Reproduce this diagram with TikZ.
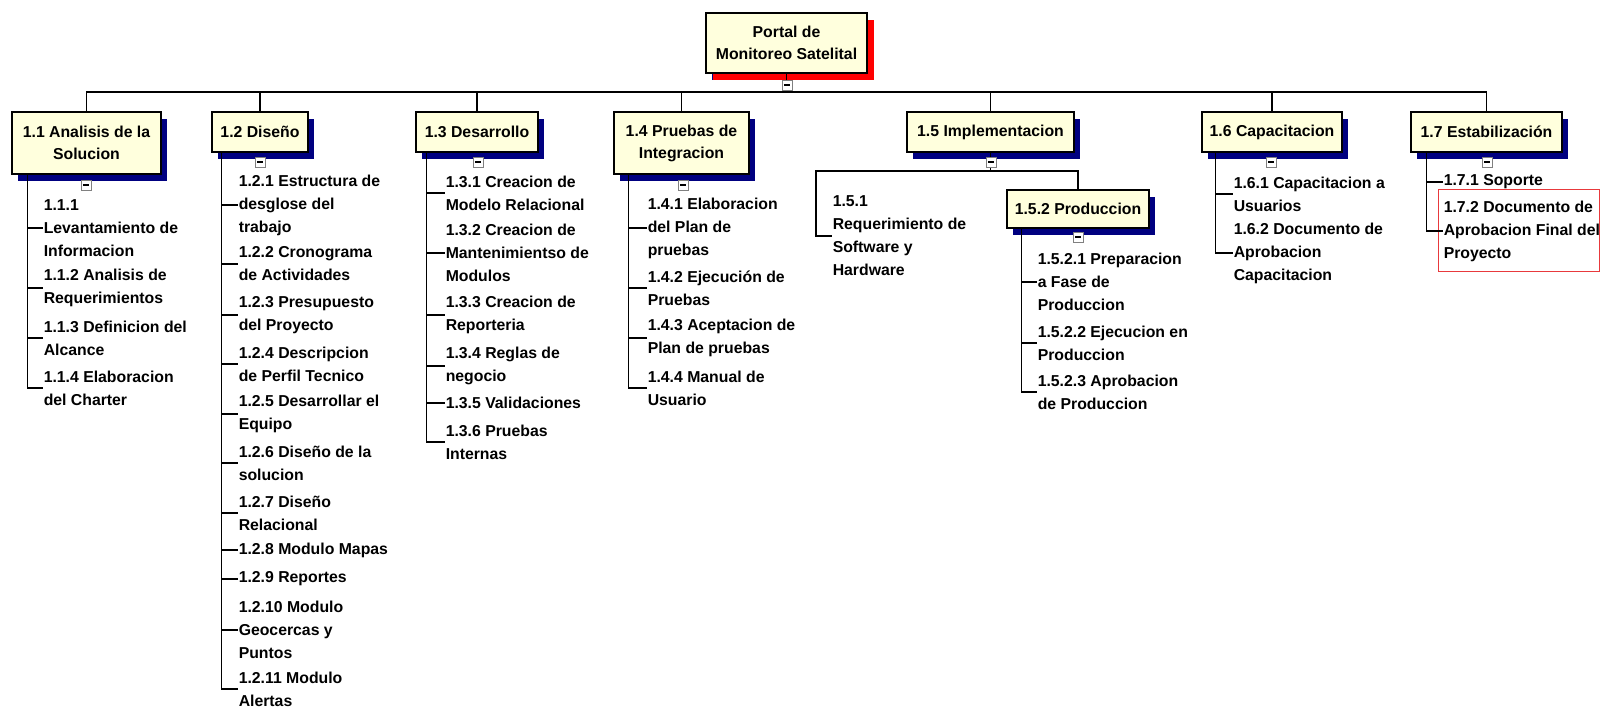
\documentclass[tikz,border=0pt]{standalone}
\usepackage{fontspec}
\setmainfont{Liberation Sans}
\usetikzlibrary{shadows}
\definecolor{boxfill}{HTML}{FFFFDD}
\definecolor{navyshadow}{HTML}{000080}
\definecolor{rootshadow}{HTML}{FF0000}
\definecolor{markgray}{HTML}{808080}
\definecolor{framered}{HTML}{E8393C}
\begin{document}
\begin{tikzpicture}[x=1pt,y=-1pt,line width=1.5pt,
  wbs/.style={draw=black, line width=1.4pt, fill=boxfill, align=center, inner sep=0pt,
    font=\fontsize{15.8}{22}\selectfont\bfseries,
    drop shadow={shadow xshift=6pt, shadow yshift=-7pt, fill=navyshadow, opacity=1, draw=none}},
  rootbox/.style={wbs, drop shadow={shadow xshift=7pt, shadow yshift=-7pt, fill=rootshadow, opacity=1, draw=none}},
  child/.style={anchor=west, inner sep=0pt, align=left, font=\fontsize{15.8}{23}\selectfont\bfseries},
  collapse/.style={draw=markgray, fill=white, line width=0.8pt, minimum size=10pt, inner sep=0pt,
    path picture={\draw[black, line width=1.2pt] ([xshift=-3pt]path picture bounding box.center) -- ([xshift=3pt]path picture bounding box.center);}}
]
\useasboundingbox (0,0) rectangle (1600,708);

% boxes
\node[rootbox, minimum width=161pt, minimum height=60pt] (root) at (786.5,43) {Portal de\\Monitoreo Satelital};
\node[wbs, minimum width=149pt, minimum height=62pt] (b11) at (86.5,143) {1.1 Analisis de la\\Solucion};
\node[wbs, minimum width=96pt, minimum height=40pt] (b12) at (260,132) {1.2 Diseño};
\node[wbs, minimum width=122pt, minimum height=40pt] (b13) at (477,132) {1.3 Desarrollo};
\node[wbs, minimum width=135pt, minimum height=62pt] (b14) at (681.5,143) {1.4 Pruebas de\\Integracion};
\node[wbs, minimum width=167pt, minimum height=40pt] (b15) at (990.5,132) {1.5 Implementacion};
\node[wbs, minimum width=142pt, minimum height=38pt] (b152) at (1078,209) {1.5.2 Produccion};
\node[wbs, minimum width=140pt, minimum height=40pt] (b16) at (1272,132) {1.6 Capacitacion};
\node[wbs, minimum width=151pt, minimum height=40pt] (b17) at (1486.5,132) {1.7 Estabilización};

% children 1.1
\node[child] (c111) at (43,228) {1.1.1\\Levantamiento de\\Informacion};
\node[child] (c112) at (43,288) {1.1.2 Analisis de\\Requerimientos};
\node[child] (c113) at (43,338) {1.1.3 Definicion del\\Alcance};
\node[child] (c114) at (43,388) {1.1.4 Elaboracion\\del Charter};
% children 1.2
\node[child] (c121) at (238,205) {1.2.1 Estructura de\\desglose del\\trabajo};
\node[child] (c122) at (238,264) {1.2.2 Cronograma\\de Actividades};
\node[child] (c123) at (238,315) {1.2.3 Presupuesto\\del Proyecto};
\node[child] (c124) at (238,364) {1.2.4 Descripcion\\de Perfil Tecnico};
\node[child] (c125) at (238,414) {1.2.5 Desarrollar el\\Equipo};
\node[child] (c126) at (238,463) {1.2.6 Diseño de la\\solucion};
\node[child] (c127) at (238,513) {1.2.7 Diseño\\Relacional};
\node[child] (c128) at (238,550) {1.2.8 Modulo Mapas};
\node[child] (c129) at (238,579) {1.2.9 Reportes};
\node[child] (c1210) at (238,630) {1.2.10 Modulo\\Geocercas y\\Puntos};
\node[child] (c1211) at (238,689) {1.2.11 Modulo\\Alertas};
% children 1.3
\node[child] (c131) at (445,193) {1.3.1 Creacion de\\Modelo Relacional};
\node[child] (c132) at (445,253) {1.3.2 Creacion de\\Mantenimientso de\\Modulos};
\node[child] (c133) at (445,315) {1.3.3 Creacion de\\Reporteria};
\node[child] (c134) at (445,366) {1.3.4 Reglas de\\negocio};
\node[child] (c135) at (445,403) {1.3.5 Validaciones};
\node[child] (c136) at (445,442) {1.3.6 Pruebas\\Internas};
% children 1.4
\node[child] (c141) at (647,228) {1.4.1 Elaboracion\\del Plan de\\pruebas};
\node[child] (c142) at (647,288) {1.4.2 Ejecución de\\Pruebas};
\node[child] (c143) at (647,338) {1.4.3 Aceptacion de\\Plan de pruebas};
\node[child] (c144) at (647,388) {1.4.4 Manual de\\Usuario};
% children 1.5
\node[child] (c151) at (832,236) {1.5.1\\Requerimiento de\\Software y\\Hardware};
\node[child] (c1521) at (1037,282) {1.5.2.1 Preparacion\\a Fase de\\Produccion};
\node[child] (c1522) at (1037,343) {1.5.2.2 Ejecucion en\\Produccion};
\node[child] (c1523) at (1037,392) {1.5.2.3 Aprobacion\\de Produccion};
% children 1.6
\node[child] (c161) at (1233,194) {1.6.1 Capacitacion a\\Usuarios};
\node[child] (c162) at (1233,253) {1.6.2 Documento de\\Aprobacion\\Capacitacion};
% children 1.7
\node[child] (c171) at (1443,182) {1.7.1 Soporte};
\node[child] (c172) at (1443,231) {1.7.2 Documento de\\Aprobacion Final del\\Proyecto};
\draw[framered, line width=1pt] (1438,190) rectangle (1599,272);

% bus
\coordinate (bus) at (0,92);
\foreach \b in {b11,b12,b13,b14,b15,b16,b17}
  \draw (root.south) -- (root.south |- bus) -| (\b.north);

% level 2 connectors
\foreach \c in {c111,c112,c113,c114} \draw ([xshift=16pt]b11.south west) |- (\c.west);
\foreach \c in {c121,c122,c123,c124,c125,c126,c127,c128,c129,c1210,c1211} \draw ([xshift=10pt]b12.south west) |- (\c.west);
\foreach \c in {c131,c132,c133,c134,c135,c136} \draw ([xshift=11pt]b13.south west) |- (\c.west);
\foreach \c in {c141,c142,c143,c144} \draw ([xshift=15pt]b14.south west) |- (\c.west);
\coordinate (k151) at (816,171);
\draw (b15.south) |- (k151) |- (c151.west);
\draw (b15.south) |- (b152.north |- k151) -- (b152.north);
\foreach \c in {c1521,c1522,c1523} \draw ([xshift=15pt]b152.south west) |- (\c.west);
\foreach \c in {c161,c162} \draw ([xshift=14pt]b16.south west) |- (\c.west);
\foreach \c in {c171,c172} \draw ([xshift=16pt]b17.south west) |- (\c.west);

% collapse markers
\node[collapse] (m0) at (787,85) {};
\node[collapse] (m11) at (86,185) {};
\node[collapse] (m12) at (260,162) {};
\node[collapse] (m13) at (478,162) {};
\node[collapse] (m14) at (683,185) {};
\node[collapse] (m15) at (991,162) {};
\node[collapse] (m152) at (1078,237) {};
\node[collapse] (m16) at (1271,162) {};
\node[collapse] (m17) at (1487,162) {};
\end{tikzpicture}
\end{document}
